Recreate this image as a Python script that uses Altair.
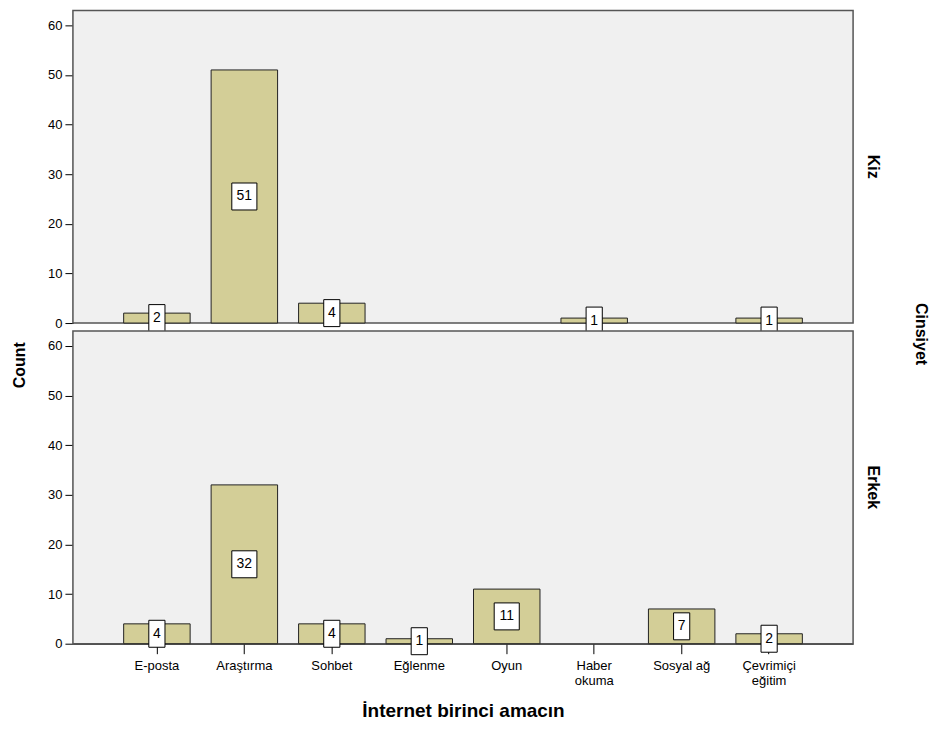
import altair as alt
import pandas as pd

categories = ["E-posta", "Araştırma", "Sohbet", "Eğlenme", "Oyun",
              "Haber okuma", "Sosyal ağ", "Çevrimiçi eğitim"]
groups = ["Kiz", "Erkek"]
kiz_counts = [2, 51, 4, 0, 0, 1, 0, 1]
erkek_counts = [4, 32, 4, 1, 11, 0, 7, 2]

rows = []
for g, vals in zip(groups, [kiz_counts, erkek_counts]):
    for c, v in zip(categories, vals):
        if v > 0:
            rows.append({"amac": c, "Cinsiyet": g, "Count": v})
df = pd.DataFrame(rows)

FONT = "Liberation Sans"
label_expr = ("datum.label == 'Haber okuma' ? ['Haber', 'okuma'] : "
              "datum.label == 'Çevrimiçi eğitim' ? ['Çevrimiçi', 'eğitim'] : datum.label")

x = alt.X("amac:N", sort=categories, title="İnternet birinci amacın",
          scale=alt.Scale(domain=categories, paddingInner=0.24, paddingOuter=0.58),
          axis=alt.Axis(labelAngle=0, labelExpr=label_expr, tickSize=10,
                        labelFontSize=13, labelPadding=6, labelLineHeight=15,
                        titleFontSize=19,
                        titleFontWeight="bold", titlePadding=14,
                        titleFont="'Liberation Sans Narrow', 'Liberation Sans'",
                        domainColor="#000", tickColor="#000", labelColor="#000",
                        titleColor="#000"))
y = alt.Y("Count:Q", title=None,
          scale=alt.Scale(domain=[0, 63], nice=False),
          axis=alt.Axis(values=[0, 10, 20, 30, 40, 50, 60], grid=False, tickSize=8,
                        labelFontSize=13, labelPadding=3,
                        domainColor="#000", tickColor="#000", labelColor="#000"))

bars = alt.Chart().mark_bar(color="#d3ce97", stroke="#222", strokeWidth=1).encode(x=x, y=y)

base_lbl = alt.Chart().transform_calculate(
    mid="datum.Count / 2",
    digits="datum.Count >= 10 ? 'two' : 'one'",
)
boxes = base_lbl.mark_point(filled=True, fill="white", stroke="#000",
                            strokeWidth=1, opacity=1, size=729).encode(
    x=alt.X("amac:N", sort=categories),
    y=alt.Y("mid:Q"),
    shape=alt.Shape("digits:N", legend=None,
                    scale=alt.Scale(domain=["one", "two"],
                                    range=["M-0.6,-1L0.6,-1L0.6,1L-0.6,1Z",
                                           "M-0.93,-1L0.93,-1L0.93,1L-0.93,1Z"])),
)
texts = base_lbl.mark_text(font=FONT, fontSize=14, color="#000",
                           baseline="middle", align="center").encode(
    x=alt.X("amac:N", sort=categories),
    y=alt.Y("mid:Q"),
    text=alt.Text("Count:Q"),
)

layer = alt.layer(bars, boxes, texts).properties(width=781, height=313)

chart = layer.facet(
    data=df,
    row=alt.Row("Cinsiyet:N", sort=groups,
                header=alt.Header(labelOrient="right", titleOrient="right",
                                  labelAngle=90, titleAngle=90,
                                  labelFontSize=16, labelFontWeight="bold",
                                  titleFontSize=16, titleFontWeight="bold",
                                  labelPadding=12, titlePadding=22,
                                  labelFont=FONT, titleFont=FONT,
                                  labelColor="#000", titleColor="#000")),
    spacing=8,
    bounds="flush",
    title=alt.TitleParams("Count", orient="left", anchor="middle", fontSize=16,
                          fontWeight="bold", font=FONT, color="#000", offset=20),
).resolve_scale(x="shared").configure_view(
    fill="#f0f0f0", stroke="#555", strokeWidth=1.5
).configure_axis(
    labelFont=FONT, titleFont=FONT
).properties(padding={"left": 3, "top": 1, "right": 0, "bottom": 0})

chart.save("out.html", embed_options={"renderer": "svg", "actions": False})
